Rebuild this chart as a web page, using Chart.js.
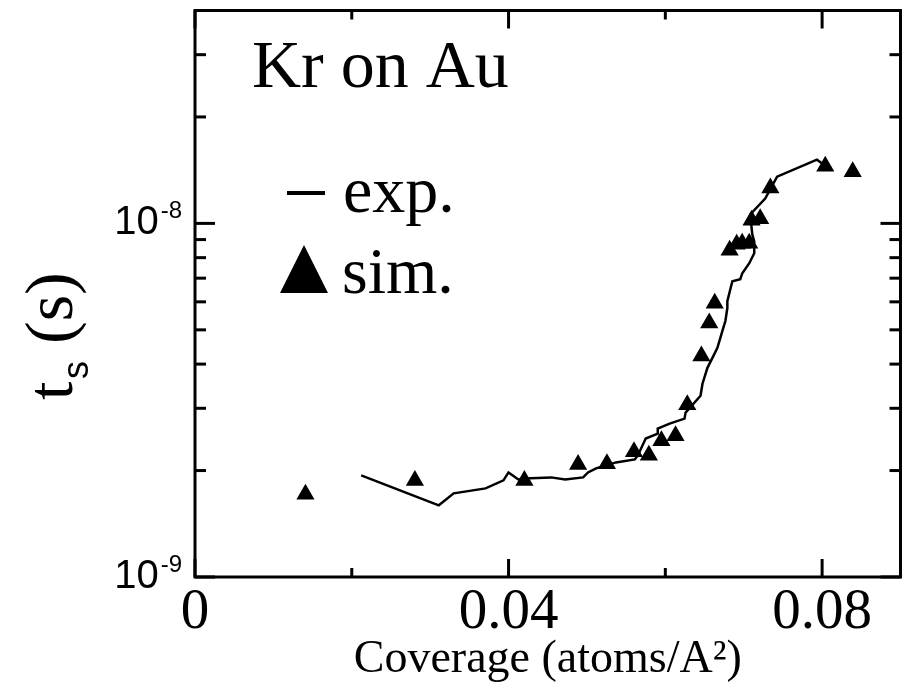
<!DOCTYPE html>
<html><head><meta charset="utf-8">
<script src="https://cdn.jsdelivr.net/npm/chart.js@4"></script>
<style>html,body{margin:0;padding:0;background:#fff}#wrap{width:911px;height:688px}</style>
</head><body><div id="wrap"><canvas id="c"></canvas></div>
<script>
// experimental curve (coverage, residence time in s)
const expX = [0.02120,0.03110,0.03300,0.03707,0.03935,0.03999,0.04126,0.04278,0.04544,0.04722,0.04951,0.05014,0.05116,0.05370,0.05611,0.05649,0.05750,0.05903,0.05903,0.06055,0.06245,0.06258,0.06449,0.06474,0.06537,0.06601,0.06664,0.06702,0.06728,0.06766,0.06791,0.06791,0.06855,0.06956,0.06982,0.07071,0.07134,0.07134,0.07109,0.07083,0.07274,0.07426,0.07934,0.08023];
const expY = [1.938e-9,1.595e-9,1.724e-9,1.781e-9,1.876e-9,1.976e-9,1.888e-9,1.901e-9,1.913e-9,1.888e-9,1.913e-9,1.976e-9,2.028e-9,2.109e-9,2.150e-9,2.207e-9,2.464e-9,2.545e-9,2.629e-9,2.716e-9,2.805e-9,2.916e-9,3.256e-9,3.520e-9,3.904e-9,4.166e-9,4.445e-9,4.744e-9,4.964e-9,5.296e-9,5.762e-9,6.030e-9,6.864e-9,6.954e-9,7.230e-9,7.716e-9,8.232e-9,8.898e-9,9.312e-9,1.060e-8,1.176e-8,1.356e-8,1.514e-8,1.466e-8];
// simulation points
const simX = [0.01409,0.02805,0.04202,0.04887,0.05255,0.05600,0.05790,0.05950,0.06130,0.06280,0.06460,0.06560,0.06630,0.06820,0.06910,0.06980,0.07070,0.07100,0.07210,0.07340,0.08040,0.08390];
const simY = [1.714e-9,1.876e-9,1.876e-9,2.080e-9,2.090e-9,2.260e-9,2.210e-9,2.430e-9,2.510e-9,3.070e-9,4.220e-9,5.230e-9,5.950e-9,8.400e-9,8.730e-9,8.780e-9,8.780e-9,1.020e-8,1.030e-8,1.260e-8,1.450e-8,1.400e-8];

const xTickValues = [0, 0.04, 0.08];
const xTickLabels = ['0', '0.04', '0.08'];
const xMinorTicks = [0.02, 0.06];
const yMajorTicks = [1e-9, 1e-8];
const yTickBase = ['10', '10'];
const yTickExp = ['-9', '-8'];
const yMinorTicks = [2e-9,3e-9,4e-9,5e-9,6e-9,7e-9,8e-9,9e-9,2e-8,3e-8];
const xTitle = 'Coverage (atoms/A\u00B2)';
const yTitleMain = 't';
const yTitleSub = 's';
const yTitleUnit = '(s)';
const plotLabel = 'Kr on Au';
const legendExp = 'exp.';
const legendSim = 'sim.';

const SERIF = '"Liberation Serif", "Times New Roman", serif';
const SANS = '"Liberation Sans", Arial, sans-serif';

const framePlugin = {
  id: 'frame',
  afterDraw(chart) {
    const {ctx, chartArea: a, scales: {x, y}} = chart;
    ctx.save();
    ctx.strokeStyle = '#000';
    ctx.fillStyle = '#000';
    ctx.lineWidth = 3;
    ctx.lineCap = 'butt';
    ctx.strokeRect(a.left, a.top, a.right - a.left, a.bottom - a.top);
    const line = (x1, y1, x2, y2) => { ctx.beginPath(); ctx.moveTo(x1, y1); ctx.lineTo(x2, y2); ctx.stroke(); };
    xTickValues.forEach(v => { const p = x.getPixelForValue(v); line(p, a.bottom, p, a.bottom - 18); line(p, a.top, p, a.top + 18); });
    xMinorTicks.forEach(v => { const p = x.getPixelForValue(v); line(p, a.bottom, p, a.bottom - 9); line(p, a.top, p, a.top + 9); });
    yMajorTicks.forEach(v => { const p = y.getPixelForValue(v); line(a.left, p, a.left + 20, p); line(a.right, p, a.right - 20, p); });
    yMinorTicks.forEach(v => { const p = y.getPixelForValue(v); line(a.left, p, a.left + 11, p); line(a.right, p, a.right - 11, p); });

    // y tick labels with superscript exponent
    yMajorTicks.forEach((v, i) => {
      const p = y.getPixelForValue(v);
      const right = a.left - 13;
      ctx.textBaseline = 'alphabetic';
      ctx.textAlign = 'right';
      ctx.font = '24px ' + SANS;
      const ew = ctx.measureText(yTickExp[i]).width;
      ctx.fillText(yTickExp[i], right, p - 5);
      ctx.font = '40px ' + SANS;
      ctx.fillText(yTickBase[i], right - ew - 2, p + 11);
    });

    // y axis title, rotated
    ctx.save();
    ctx.translate(72, 400);
    ctx.rotate(-Math.PI / 2);
    ctx.textAlign = 'left';
    ctx.textBaseline = 'alphabetic';
    ctx.font = '66px ' + SERIF;
    ctx.fillText(yTitleMain, 0, 0);
    ctx.font = '36px ' + SANS;
    ctx.fillText(yTitleSub, 21, 16);
    ctx.font = '68px ' + SERIF;
    ctx.fillText(yTitleUnit, 56, 0);
    ctx.restore();

    // in-plot labels
    ctx.textAlign = 'left';
    ctx.textBaseline = 'alphabetic';
    ctx.font = '68px ' + SERIF;
    ctx.fillText(plotLabel, 252, 87);
    ctx.lineWidth = 4;
    line(287, 193, 325, 193);
    ctx.font = '66px ' + SERIF;
    ctx.fillText(legendExp, 343, 212);
    ctx.beginPath();
    ctx.moveTo(280, 293); ctx.lineTo(328, 293); ctx.lineTo(304, 245); ctx.closePath(); ctx.fill();
    ctx.fillText(legendSim, 342, 293);
    ctx.restore();
  }
};

new Chart(document.getElementById('c'), {
  type: 'scatter',
  data: {
    datasets: [
      {label: legendExp, data: expX.map((v, i) => ({x: v, y: expY[i]})), showLine: true, borderColor: '#000', borderWidth: 2.5, pointRadius: 0, tension: 0, fill: false},
      {label: legendSim, data: simX.map((v, i) => ({x: v, y: simY[i]})), showLine: false, pointStyle: 'triangle', pointRadius: 10.5, backgroundColor: '#000', borderColor: '#000', borderWidth: 0}
    ]
  },
  options: {
    animation: false, responsive: true, maintainAspectRatio: false, devicePixelRatio: 1,
    layout: {padding: {left: 195, right: 7, top: 7, bottom: 0}},
    plugins: {legend: {display: false}, tooltip: {enabled: false}},
    scales: {
      x: {
        type: 'linear', min: 0, max: 0.09,
        grid: {display: false, drawTicks: false}, border: {display: false},
        afterBuildTicks: s => { s.ticks = xTickValues.map(v => ({value: v})); },
        ticks: {padding: 2, color: '#000', maxRotation: 0, autoSkip: false,
          font: {family: SERIF, size: 57, lineHeight: 1.2},
          callback: v => { const i = xTickValues.indexOf(v); return i >= 0 ? xTickLabels[i] : ''; }},
        title: {display: true, text: xTitle, color: '#000', font: {family: SERIF, size: 46, lineHeight: 1.2}, padding: 0},
        afterFit: s => { s.height = 111; }
      },
      y: {type: 'logarithmic', min: 1e-9, max: 4e-8, display: false}
    }
  },
  plugins: [framePlugin]
});
</script></body></html>
